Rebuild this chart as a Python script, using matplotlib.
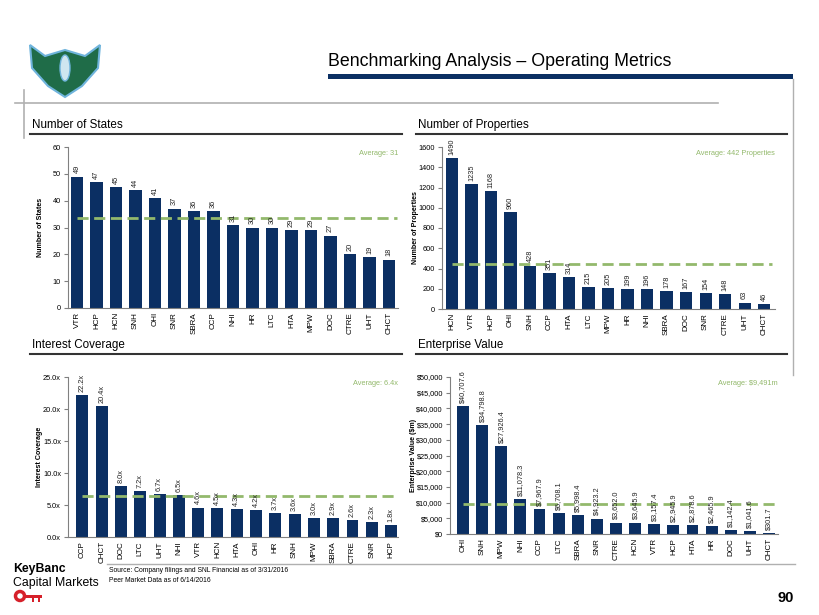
import numpy as np
import matplotlib
matplotlib.use('Agg')
import matplotlib.pyplot as plt
from matplotlib.patches import Polygon, Ellipse, Rectangle, Circle
from matplotlib import font_manager

names_installed = sorted(set(f.name for f in font_manager.fontManager.ttflist))
narrow = [n for n in ['Liberation Sans Narrow', 'DejaVu Sans Condensed'] if n in names_installed]
plt.rcParams['font.family'] = narrow + ['Liberation Sans', 'DejaVu Sans']
NARROW = bool(narrow)
k = 1.0 if NARROW else 0.88  # shrink factor when no narrow font

# data
states_names = ['VTR', 'HCP', 'HCN', 'SNH', 'OHI', 'SNR', 'SBRA', 'CCP', 'NHI',
                'HR', 'LTC', 'HTA', 'MPW', 'DOC', 'CTRE', 'UHT', 'CHCT']
states_vals = [49, 47, 45, 44, 41, 37, 36, 36, 31, 30, 30, 29, 29, 27, 20, 19, 18]
states_avg = 33.4

props_names = ['HCN', 'VTR', 'HCP', 'OHI', 'SNH', 'CCP', 'HTA', 'LTC', 'MPW',
               'HR', 'NHI', 'SBRA', 'DOC', 'SNR', 'CTRE', 'UHT', 'CHCT']
props_vals = [1490, 1235, 1168, 960, 428, 351, 314, 215, 205, 199, 196, 178, 167, 154, 148, 63, 46]
props_avg = 442

cov_names = ['CCP', 'CHCT', 'DOC', 'LTC', 'UHT', 'NHI', 'VTR', 'HCN', 'HTA',
             'OHI', 'HR', 'SNH', 'MPW', 'SBRA', 'CTRE', 'SNR', 'HCP']
cov_vals = [22.2, 20.4, 8.0, 7.2, 6.7, 6.5, 4.6, 4.5, 4.3, 4.2, 3.7, 3.6, 3.0, 2.9, 2.6, 2.3, 1.8]
cov_avg = 6.4

ev_names = ['OHI', 'SNH', 'MPW', 'NHI', 'CCP', 'LTC', 'SBRA', 'SNR', 'CTRE',
            'HCN', 'VTR', 'HCP', 'HTA', 'HR', 'DOC', 'UHT', 'CHCT']
ev_vals = [40707.6, 34798.8, 27926.4, 11078.3, 7967.9, 6708.1, 5998.4, 4923.2, 3652.0,
           3645.9, 3157.4, 2945.9, 2878.6, 2465.9, 1142.4, 1041.6, 301.7]
ev_avg = 9491

NAVY = '#0b2f63'
GREEN = '#93b96c'
W, H = 820, 615

fig = plt.figure(figsize=(8.2, 6.15), dpi=100)

# overlay in pixel coords for page furniture
bg = fig.add_axes([0, 0, 1, 1])
bg.set_xlim(0, W)
bg.set_ylim(H, 0)
bg.axis('off')

bg.text(328, 61, 'Benchmarking Analysis \u2013 Operating Metrics', fontsize=14.5 * k, va='center', ha='left')
bg.add_patch(Rectangle((328, 74), 465, 5, color=NAVY, lw=0))
bg.plot([793.5, 793.5], [79, 375], color='#b0b0b0', lw=1)
bg.plot([15, 718], [103, 103], color='#b0b0b0', lw=1.2)
bg.plot([24, 24], [90, 138], color='#b0b0b0', lw=1.2)

# logo (rough)
bg.add_patch(Polygon([(30, 45), (45, 56), (65, 50), (85, 56), (100, 45), (98, 68),
                      (82, 86), (65, 97), (48, 86), (32, 68)],
                     closed=True, fc='#1f6c48', ec='#6fb4dc', lw=1.5))
bg.add_patch(Ellipse((65, 68), 10, 26, fc='#cfe6f0', ec='#6fb4dc', lw=1))

# section headers
for (x0, x1, y, txt) in [(30, 402, 125, 'Number of States'), (416, 787, 125, 'Number of Properties'),
                         (30, 402, 345, 'Interest Coverage'), (416, 787, 345, 'Enterprise Value')]:
    bg.text(x0 + 2, y, txt, fontsize=9.5 * k, va='center', ha='left')
    bg.plot([x0, x1], [y + 9, y + 9], color='#333333', lw=1.5)

# footer
bg.plot([107, 795], [564, 564], color='#b0b0b0', lw=1)
bg.text(13, 569, 'KeyBanc', fontsize=10 * k, fontweight='bold', va='center', ha='left')
bg.text(13, 583, 'Capital Markets', fontsize=10 * k, va='center', ha='left')
bg.add_patch(Circle((20, 596), 4.5, fc='none', ec='#d6202a', lw=2.5))
bg.add_patch(Rectangle((24, 594.5), 18, 3, color='#d6202a', lw=0))
bg.add_patch(Rectangle((32, 596), 2.5, 6, color='#d6202a', lw=0))
bg.add_patch(Rectangle((38, 596), 2.5, 6, color='#d6202a', lw=0))
bg.text(109, 570, 'Source: Company filings and SNL Financial as of 3/31/2016', fontsize=5.5 * k, va='center', ha='left')
bg.text(109, 580, 'Peer Market Data as of 6/14/2016', fontsize=5.5 * k, va='center', ha='left')
bg.text(794, 598, '90', fontsize=10.5, fontweight='bold', va='center', ha='right')


def ax_at(x0, y0, x1, y1):
    return fig.add_axes([x0 / W, 1 - y1 / H, (x1 - x0) / W, (y1 - y0) / H])


def panel(box, xlim, names, vals, avg, ymax, step, ylabel, tickfmt, valfmt, avgtxt, labx):
    ax = ax_at(*box)
    x = np.arange(len(vals))
    ax.bar(x, vals, width=0.62, color=NAVY, zorder=2)
    ax.hlines(avg, 0, len(vals) - 1 + 0.4, colors=GREEN, linestyles=(0, (4, 2)), lw=2, zorder=3)
    ax.set_xlim(*xlim)
    ax.set_ylim(0, ymax)
    ticks = np.arange(0, ymax + step / 2, step)
    ax.set_yticks(ticks)
    ax.set_yticklabels([tickfmt(t) for t in ticks], fontsize=6 * k)
    ax.set_xticks(x)
    ax.set_xticklabels(names, rotation=90, fontsize=6.5 * k)
    ax.tick_params(axis='x', length=0, pad=3)
    ax.tick_params(axis='y', length=3, color='#808080', pad=2)
    for s in ['top', 'right']:
        ax.spines[s].set_visible(False)
    for s in ['left', 'bottom']:
        ax.spines[s].set_color('#808080')
        ax.spines[s].set_linewidth(0.8)
    for xi, v in zip(x, vals):
        ax.text(xi, v + ymax * 0.02, valfmt(v), rotation=90, ha='center', va='bottom',
                fontsize=6 * k, color='#222222', zorder=4)
    ax.text(1.0, 0.96, avgtxt, transform=ax.transAxes, ha='right', va='center',
            fontsize=6 * k, color=GREEN)
    ax.set_ylabel(ylabel, fontsize=5.8 * k, fontweight='bold')
    ax.yaxis.set_label_coords(labx, 0.5)
    return ax


panel((68, 147, 398, 308), (-0.46, 16.46), states_names, states_vals, states_avg, 60, 10,
      'Number of States', lambda t: f'{t:.0f}', lambda v: f'{v}', 'Average: 31', -0.072)
panel((442, 147, 775, 309), (-0.51, 16.56), props_names, props_vals, props_avg, 1600, 200,
      'Number of Properties', lambda t: f'{t:.0f}', lambda v: f'{v}', 'Average: 442 Properties', -0.068)
panel((68, 377, 398, 537), (-0.75, 16.36), cov_names, cov_vals, cov_avg, 25, 5,
      'Interest Coverage', lambda t: f'{t:.1f}x', lambda v: f'{v:.1f}x', 'Average: 6.4x', -0.075)
panel((450, 377, 778, 534), (-0.68, 16.47), ev_names, ev_vals, ev_avg, 50000, 5000,
      'Enterprise Value ($m)', lambda t: f'${t:,.0f}', lambda v: f'${v:,.1f}', 'Average: $9,491m', -0.1)

fig.savefig('out.png', dpi=100)
